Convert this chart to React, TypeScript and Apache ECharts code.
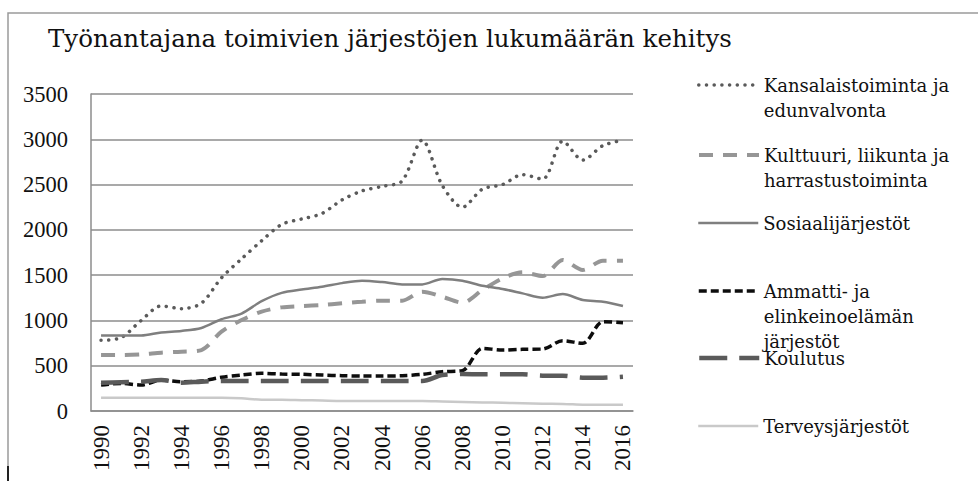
import React, { useEffect, useRef } from "react";
import * as echarts from "echarts";

const years = ["1990","1991","1992","1993","1994","1995","1996","1997","1998","1999","2000","2001","2002","2003","2004","2005","2006","2007","2008","2009","2010","2011","2012","2013","2014","2015","2016"];

const kansalais = [780, 810, 1000, 1160, 1130, 1190, 1470, 1680, 1880, 2060, 2120, 2180, 2330, 2430, 2480, 2540, 2990, 2490, 2250, 2450, 2500, 2610, 2560, 2980, 2770, 2930, 2990];
const kulttuuri = [618, 618, 626, 644, 655, 673, 876, 1004, 1097, 1144, 1159, 1170, 1189, 1207, 1218, 1218, 1317, 1262, 1196, 1336, 1465, 1531, 1490, 1667, 1557, 1660, 1660];
const sosiaali = [833, 833, 833, 868, 884, 917, 1013, 1076, 1212, 1304, 1341, 1371, 1412, 1439, 1424, 1398, 1398, 1457, 1439, 1383, 1347, 1299, 1251, 1291, 1225, 1207, 1159];
const ammatti = [287, 305, 287, 342, 324, 331, 372, 397, 416, 408, 405, 397, 390, 386, 386, 390, 405, 434, 445, 692, 673, 681, 684, 776, 747, 986, 975];
const koulutus = [313, 318, 324, 342, 313, 324, 331, 331, 331, 331, 331, 331, 331, 331, 331, 331, 331, 397, 408, 405, 405, 405, 390, 390, 368, 368, 379];
const terveys = [145, 145, 145, 145, 145, 145, 145, 140, 125, 125, 120, 115, 110, 110, 110, 110, 110, 105, 100, 95, 90, 85, 80, 78, 70, 68, 68];

const yTicks = { min: 0, max: 3500, interval: 500 };

const seriesNames = [
  "Kansalaistoiminta ja edunvalvonta",
  "Kulttuuri, liikunta ja harrastustoiminta",
  "Sosiaalijärjestöt",
  "Ammatti- ja elinkeinoelämän järjestöt",
  "Koulutus",
  "Terveysjärjestöt",
];
const legendLabels = [
  "Kansalaistoiminta ja\nedunvalvonta",
  "Kulttuuri, liikunta ja\nharrastustoiminta",
  "Sosiaalijärjestöt",
  "Ammatti- ja\nelinkeinoelämän\njärjestöt",
  "Koulutus",
  "Terveysjärjestöt",
];

const styles = [
  { color: "#5a5a5a", width: 3.5, type: [0.1, 7.6], cap: "round" },
  { color: "#969696", width: 4, type: [14, 10], cap: "butt" },
  { color: "#7f7f7f", width: 2.5, type: "solid", cap: "butt" },
  { color: "#0d0d0d", width: 3.5, type: [8, 4], cap: "butt" },
  { color: "#5a5a5a", width: 4.5, type: [28, 12], cap: "butt" },
  { color: "#c9c9c9", width: 2.5, type: "solid", cap: "butt" },
];

const legendCenters = [85, 155, 223, 291, 358, 426];
const LEGEND_FONT = "DejaVu Serif";
const AXIS_FONT = "Liberation Serif";
const LH = 25;

export default function App() {
  const ref = useRef<HTMLDivElement>(null);
  useEffect(() => {
    if (!ref.current) return;
    const chart = echarts.init(ref.current, null, { renderer: "svg" });
    const data = [kansalais, kulttuuri, sosiaali, ammatti, koulutus, terveys];
    const series = data.map((d, i) => ({
      name: seriesNames[i],
      type: "line",
      data: d,
      symbol: "none",
      smooth: 0.3,
      lineStyle: {
        color: styles[i].color,
        width: styles[i].width,
        type: styles[i].type as any,
        cap: styles[i].cap as any,
      },
      itemStyle: { color: styles[i].color },
      emphasis: { disabled: true },
    }));
    const legends = seriesNames.map((name, i) => {
      const lines = legendLabels[i].split("\n").length;
      // prepend blank lines so the first real line sits level with the symbol
      const label = "\n".repeat(lines - 1) + legendLabels[i];
      return {
        left: 697,
        top: legendCenters[i] - ((2 * lines - 1) * LH) / 2,
        orient: "vertical",
        padding: 0,
        itemWidth: 60,
        itemHeight: 14,
        selectedMode: false,
        itemStyle: { opacity: 0 },
        lineStyle: { width: styles[i].width },
        data: [name],
        formatter: () => label,
        textStyle: {
          fontFamily: LEGEND_FONT,
          fontSize: 18,
          lineHeight: LH,
          color: "#111",
        },
      };
    });
    chart.setOption({
      animation: false,
      title: {
        text: "Työnantajana toimivien järjestöjen lukumäärän kehitys",
        left: 48,
        top: 26,
        padding: 0,
        textStyle: {
          fontFamily: LEGEND_FONT,
          fontWeight: "normal",
          fontSize: 24.5,
          color: "#111",
        },
      },
      grid: { left: 91, right: 345, top: 94, bottom: 70, containLabel: false },
      xAxis: {
        type: "category",
        data: years,
        boundaryGap: true,
        axisTick: { show: false },
        axisLine: { lineStyle: { color: "#8c8c8c", width: 1.5 } },
        axisLabel: {
          rotate: 90,
          interval: 1,
          margin: 14,
          fontFamily: AXIS_FONT,
          fontSize: 23,
          color: "#111",
        },
      },
      yAxis: {
        type: "value",
        min: yTicks.min,
        max: yTicks.max,
        interval: yTicks.interval,
        axisLine: { show: true, lineStyle: { color: "#8c8c8c", width: 1.5 } },
        axisTick: { show: false },
        splitLine: { lineStyle: { color: "#8c8c8c", width: 1.5 } },
        axisLabel: {
          margin: 23,
          fontFamily: AXIS_FONT,
          fontSize: 22.5,
          color: "#111",
          formatter: (v: number) => String(v),
        },
      },
      legend: legends,
      series,
      graphic: [
        {
          type: "rect",
          silent: true,
          shape: { x: 8, y: 13, width: 1000, height: 500 },
          style: { fill: "none", stroke: "#9a9a9a", lineWidth: 1.5 },
        },
        {
          type: "line",
          silent: true,
          shape: { x1: 8, y1: 466, x2: 8, y2: 481 },
          style: { stroke: "#222", lineWidth: 2 },
        },
      ],
    });
    return () => chart.dispose();
  }, []);
  return (
    <div
      ref={ref}
      style={{ position: "fixed", left: 0, top: 0, width: 978, height: 481, background: "#fff" }}
    />
  );
}
